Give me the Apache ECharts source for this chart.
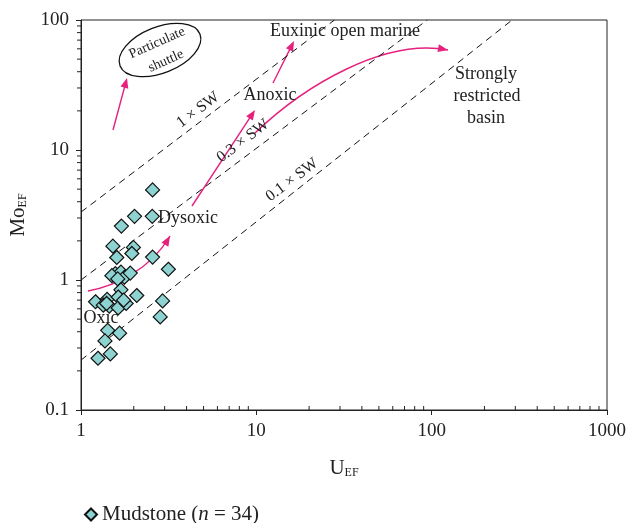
<!DOCTYPE html>
<html><head><meta charset="utf-8">
<script src="https://cdn.jsdelivr.net/npm/echarts@6/dist/echarts.min.js"></script>
<style>html,body{margin:0;padding:0;background:#fff}#c{width:626px;height:523px}</style>
</head><body><div id="c"></div>
<script>
// ---- data ----
const uEF  = [2.56, 2.02, 2.55, 1.70, 1.52, 1.99, 1.95, 1.60, 2.56, 3.15, 1.57, 1.69, 1.50, 1.77, 1.91, 1.62, 1.69, 2.08, 1.21, 1.41, 1.63, 1.34, 1.45, 1.63, 1.81, 2.92, 2.83, 1.42, 1.66, 1.37, 1.25, 1.47, 1.40, 1.75];
const moEF = [4.93, 3.09, 3.09, 2.60, 1.82, 1.78, 1.60, 1.49, 1.50, 1.21, 1.12, 1.15, 1.08, 1.05, 1.13, 1.02, 0.84, 0.76, 0.68, 0.71, 0.74, 0.64, 0.63, 0.61, 0.66, 0.69, 0.52, 0.41, 0.39, 0.34, 0.25, 0.27, 0.66, 0.70];
const line1SW  = [[1, 3.33], [27.9, 100]];
const line03SW = [[1, 1.0], [94.4, 100]];
const line01SW = [[1, 0.242], [287.6, 100]];
const xTickLabels = ['1', '10', '100', '1000'];
const yTickLabels = ['0.1', '1', '10', '100'];
const xMinorTicks = [2,3,4,5,6,7,8,9,20,30,40,50,60,70,80,90,200,300,400,500,600,700,800,900];
const yMinorTicks = [0.2,0.3,0.4,0.5,0.6,0.7,0.8,0.9,2,3,4,5,6,7,8,9,20,30,40,50,60,70,80,90];

const FONT = "'Liberation Serif', 'Times New Roman', serif";
const TXT = '#222';
const PINK = '#e5207d';

const scatterData = uEF.map((u, i) => [u, moEF[i]]);

// ---- annotation helpers (pixel-space decorations) ----
function head(tx, ty, fx, fy) {
  const a = Math.atan2(ty - fy, tx - fx), L = 10, W = 4;
  const bx = tx - L * Math.cos(a), by = ty - L * Math.sin(a);
  const nx = -Math.sin(a) * W, ny = Math.cos(a) * W;
  return { type: 'polygon', silent: true, shape: { points: [[tx, ty], [bx + nx, by + ny], [bx - nx, by - ny]] }, style: { fill: PINK } };
}
function straightArrow(x1, y1, x2, y2) {
  const a = Math.atan2(y2 - y1, x2 - x1);
  return [
    { type: 'line', silent: true, shape: { x1, y1, x2: x2 - 8 * Math.cos(a), y2: y2 - 8 * Math.sin(a) }, style: { stroke: PINK, lineWidth: 1.4 } },
    head(x2, y2, x1, y1)
  ];
}
function curveArrow(p0, c1, c2, p3) {
  return [
    { type: 'bezierCurve', silent: true, shape: { x1: p0[0], y1: p0[1], cpx1: c1[0], cpy1: c1[1], cpx2: c2[0], cpy2: c2[1], x2: p3[0], y2: p3[1] }, style: { stroke: PINK, lineWidth: 1.4, fill: null } },
    head(p3[0], p3[1], c2[0], c2[1])
  ];
}
function label(text, x, y, size, rotDeg) {
  return { type: 'text', silent: true, x, y, rotation: (rotDeg || 0) * Math.PI / 180,
    style: { text, fontSize: size, fontFamily: FONT, fill: TXT, align: 'center', verticalAlign: 'middle' } };
}

const graphics = [].concat(
  [{ type: 'ellipse', silent: true, x: 160, y: 50, rotation: 0.38, shape: { cx: 0, cy: 0, rx: 43, ry: 23 }, style: { fill: 'none', stroke: '#111', lineWidth: 1.3 } }],
  [label('Particulate', 157, 43, 14, 24), label('shuttle', 166, 61, 14, 24)],
  straightArrow(113, 130, 127, 78),
  straightArrow(273, 83, 294, 41),
  straightArrow(192, 206, 255, 110),
  curveArrow([255, 133], [305, 85], [385, 38], [448, 50]),
  curveArrow([88, 291], [115, 286], [150, 270], [170, 236]),
  [
    label('1 × SW', 198, 110, 16, 37),
    label('0.3 × SW', 243, 141, 16, 37),
    label('0.1 × SW', 292, 180, 16, 37),
    label('Euxinic open marine', 345, 31, 18, 0),
    label('Anoxic', 270, 95, 18, 0),
    label('Strongly', 486, 74, 18, 0),
    label('restricted', 487, 96, 18, 0),
    label('basin', 486, 118, 18, 0),
    label('Dysoxic', 188, 218, 18, 0),
    label('Oxic', 101, 318, 18, 0)
  ]
);

const chart = echarts.init(document.getElementById('c'), null, { renderer: 'canvas' });
const dashed = { color: '#111', width: 1, type: [7, 5] };

chart.setOption({
  backgroundColor: '#fff',
  animation: false,
  textStyle: { fontFamily: FONT },
  grid: { left: 81, right: 19, top: 20, bottom: 113, show: true, borderColor: '#222', borderWidth: 1, containLabel: false, outerBoundsMode: 'none' },
  xAxis: {
    type: 'log', logBase: 10, min: 1, max: 1000,
    axisLine: { show: true, lineStyle: { color: '#222' } },
    axisTick: { show: true, length: 5, inside: false, lineStyle: { color: '#222' } },
    axisLabel: { fontSize: 19, color: TXT, margin: 12, fontFamily: FONT, hideOverlap: false,
      formatter: v => xTickLabels[Math.round(Math.log10(v))] },
    splitLine: { show: false },
    name: '{m|U}{s|EF}', nameLocation: 'middle', nameGap: 47,
    nameTextStyle: { rich: {
      m: { fontSize: 21, fontFamily: FONT, color: TXT },
      s: { fontSize: 12, fontFamily: FONT, color: TXT, verticalAlign: 'bottom', padding: [10, 0, 0, 0] } } }
  },
  yAxis: {
    type: 'log', logBase: 10, min: 0.1, max: 100,
    axisLine: { show: true, lineStyle: { color: '#222' } },
    axisTick: { show: true, length: 5, inside: false, lineStyle: { color: '#222' } },
    axisLabel: { fontSize: 19, color: TXT, margin: 12, fontFamily: FONT,
      formatter: v => yTickLabels[Math.round(Math.log10(v)) + 1] },
    splitLine: { show: false },
    name: '{m|Mo}{s|EF}', nameLocation: 'middle', nameGap: 52, nameRotate: 90,
    nameTextStyle: { rich: {
      m: { fontSize: 21, fontFamily: FONT, color: TXT },
      s: { fontSize: 12, fontFamily: FONT, color: TXT, verticalAlign: 'bottom', padding: [10, 0, 0, 0] } } }
  },
  legend: {
    data: ['Mudstone'], left: 79, top: 499, icon: 'diamond', itemWidth: 12, itemHeight: 12, itemGap: 8,
    formatter: () => '{a|Mudstone (}{i|n}{a| = 34)}',
    textStyle: { rich: {
      a: { fontSize: 21, fontFamily: FONT, color: TXT },
      i: { fontSize: 21, fontFamily: FONT, color: TXT, fontStyle: 'italic' } } }
  },
  graphic: graphics,
  series: [
    { name: '1SW', type: 'line', data: line1SW, symbol: 'none', silent: true, lineStyle: dashed, z: 1 },
    { name: '03SW', type: 'line', data: line03SW, symbol: 'none', silent: true, lineStyle: dashed, z: 1 },
    { name: '01SW', type: 'line', data: line01SW, symbol: 'none', silent: true, lineStyle: dashed, z: 1 },
    { name: 'xMinor', type: 'custom', silent: true, clip: false, data: xMinorTicks.map(v => [v, 0.1]),
      renderItem: (params, api) => { const p = api.coord([api.value(0), 0.1]);
        return { type: 'line', shape: { x1: p[0], y1: p[1], x2: p[0], y2: p[1] - 4 }, style: { stroke: '#222', lineWidth: 1 } }; } },
    { name: 'yMinor', type: 'custom', silent: true, clip: false, data: yMinorTicks.map(v => [1, v]),
      renderItem: (params, api) => { const p = api.coord([1, api.value(1)]);
        return { type: 'line', shape: { x1: p[0] - 4, y1: p[1], x2: p[0], y2: p[1] }, style: { stroke: '#222', lineWidth: 1 } }; } },
    { name: 'Mudstone', type: 'scatter', data: scatterData, symbol: 'diamond', symbolSize: 14, z: 5,
      itemStyle: { color: '#8dd3d1', borderColor: '#111', borderWidth: 1.2, opacity: 1 } }
  ]
});
</script></body></html>
